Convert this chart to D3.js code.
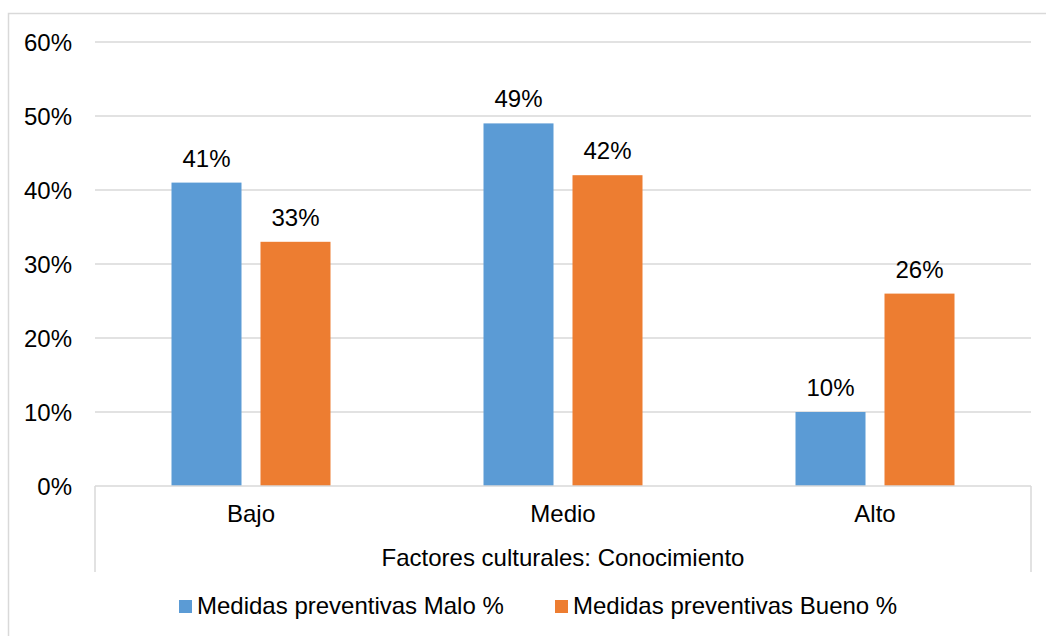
<!DOCTYPE html>
<html><head><meta charset="utf-8">
<script src="https://cdn.jsdelivr.net/npm/d3@7"></script>
<style>body{margin:0;background:#fff}svg{display:block}text{font-family:"Liberation Sans",Arial,sans-serif;fill:#000}</style>
</head><body>
<svg id="c" width="1046" height="636"></svg>
<script>
const categories = ["Bajo", "Medio", "Alto"];
const seriesNames = ["Medidas preventivas Malo %", "Medidas preventivas Bueno %"];
const malo = [41, 49, 10];
const bueno = [33, 42, 26];
const yTicks = [0, 10, 20, 30, 40, 50, 60];
const axisTitle = "Factores culturales: Conocimiento";
const colors = ["#5B9BD5", "#ED7D31"];

(function () {
const svg = d3.select("#c");
const fs = 24;
const pLeft = 95, pRight = 1031, pTop = 42, pBottom = 486;

svg.append("rect").attr("x", 8.5).attr("y", 13.5).attr("width", 1100).attr("height", 700)
  .attr("fill", "none").attr("stroke", "#d9d9d9").attr("stroke-width", 1.5);

const x = d3.scaleBand().domain(categories).range([pLeft, pRight]).padding(0);
const step = 89, bw = 70;
const x1 = d3.scaleBand().domain(seriesNames).range([0, x.bandwidth()])
  .paddingInner((step - bw) / step).paddingOuter((x.bandwidth() - (2 * step - (step - bw))) / 2 / step);
const y = d3.scaleLinear().domain([0, 60]).range([pBottom, pTop]);

svg.append("g").selectAll("line").data(yTicks.filter(d => d > 0)).join("line")
  .attr("x1", pLeft).attr("x2", pRight).attr("y1", d => y(d)).attr("y2", d => y(d))
  .attr("stroke", "#d9d9d9").attr("stroke-width", 1.5);

const yAxis = d3.axisLeft(y).tickValues(yTicks).tickFormat(d => d + "%").tickSize(0).tickPadding(0);
const gy = svg.append("g").attr("transform", `translate(72,0)`).call(yAxis);
gy.select(".domain").remove();
gy.selectAll("text").attr("font-size", fs).attr("font-family", '"Liberation Sans",Arial,sans-serif').attr("fill", "#000").attr("dy", "0.35em");

const data = categories.map((c, i) => ({ c, vals: [malo[i], bueno[i]] }));
const groups = svg.append("g").selectAll("g").data(data).join("g")
  .attr("transform", d => `translate(${x(d.c)},0)`);
groups.selectAll("rect").data(d => d.vals.map((v, j) => ({ v, s: seriesNames[j], j }))).join("rect")
  .attr("x", d => x1(d.s)).attr("width", x1.bandwidth())
  .attr("y", d => y(d.v)).attr("height", d => y(0) - y(d.v))
  .attr("fill", d => colors[d.j]);
groups.selectAll("text").data(d => d.vals.map((v, j) => ({ v, s: seriesNames[j], j }))).join("text")
  .attr("x", d => x1(d.s) + x1.bandwidth() / 2).attr("y", d => y(d.v) - 16)
  .attr("text-anchor", "middle").attr("font-size", fs).text(d => d.v + "%");

const ax = svg.append("g").attr("fill", "none").attr("stroke", "#d9d9d9").attr("stroke-width", 1.5);
ax.append("line").attr("x1", pLeft).attr("x2", pRight).attr("y1", pBottom).attr("y2", pBottom);
ax.append("line").attr("x1", pLeft).attr("x2", pLeft).attr("y1", pBottom).attr("y2", 572);
ax.append("line").attr("x1", pRight).attr("x2", pRight).attr("y1", pBottom).attr("y2", 572);

const xAxis = d3.axisBottom(x).tickSize(0).tickPadding(0);
const gx = svg.append("g").attr("transform", `translate(0,522)`).call(xAxis);
gx.select(".domain").remove();
gx.selectAll("text").attr("font-size", fs).attr("font-family", '"Liberation Sans",Arial,sans-serif').attr("fill", "#000").attr("dy", 0).attr("y", 0);

svg.append("text").attr("x", (pLeft + pRight) / 2).attr("y", 566).attr("text-anchor", "middle")
  .attr("font-size", fs).text(axisTitle);

const legX = [179, 555];
const leg = svg.append("g").selectAll("g").data(seriesNames).join("g")
  .attr("transform", (d, i) => `translate(${legX[i]},600)`);
leg.append("rect").attr("width", 13).attr("height", 13).attr("fill", (d, i) => colors[i]);
leg.append("text").attr("x", 18).attr("y", 14).attr("font-size", fs).text(d => d);
})();
</script>
</body></html>
